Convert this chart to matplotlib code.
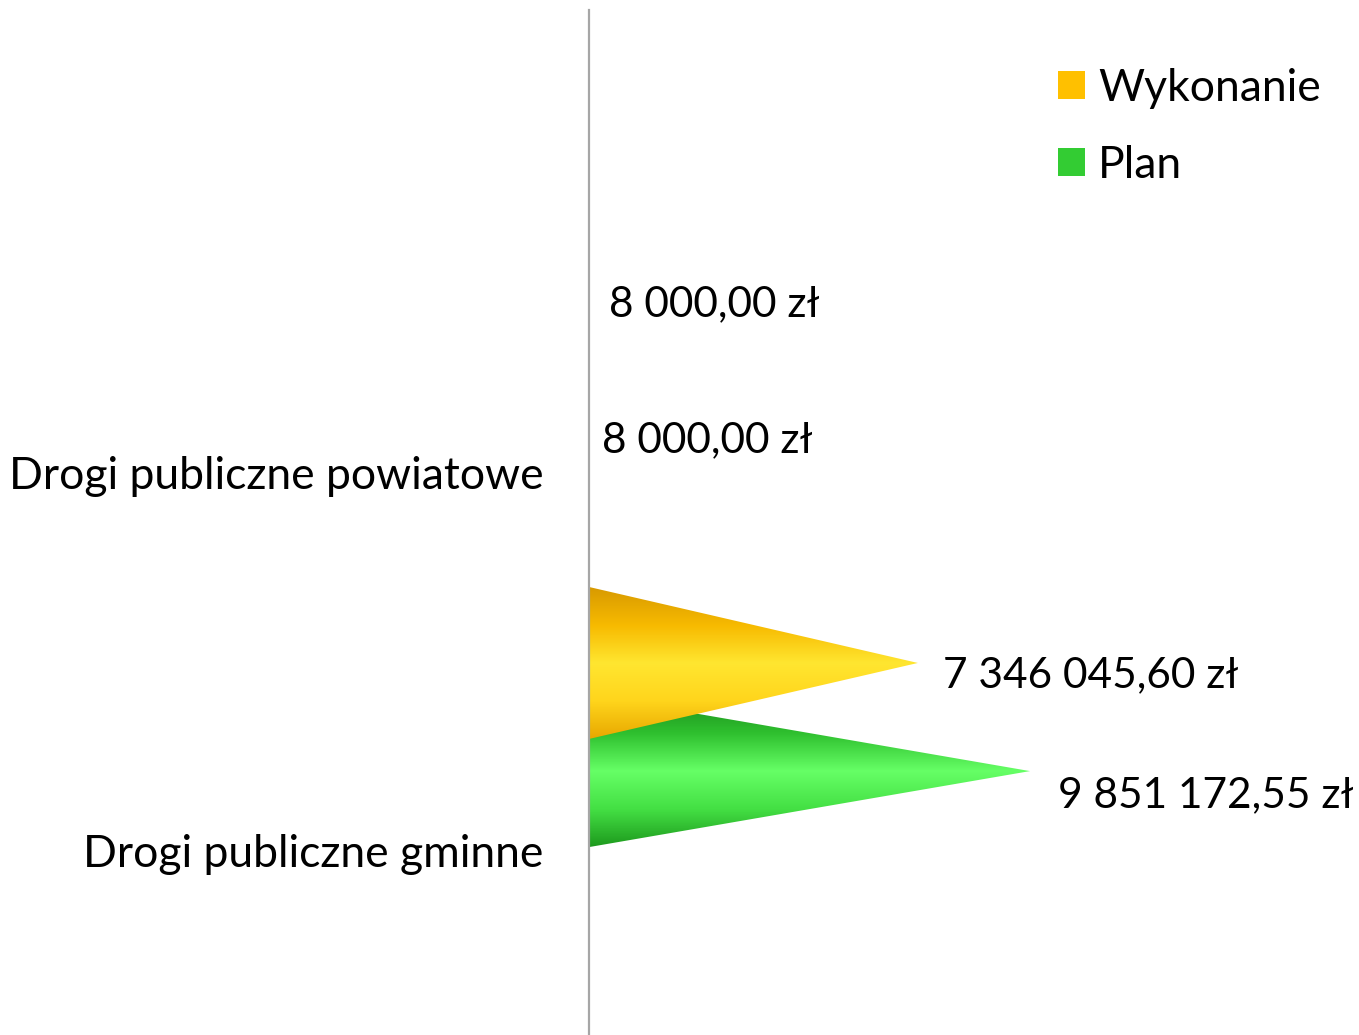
import matplotlib.pyplot as plt
import numpy as np
from matplotlib.patches import Polygon, Patch
from matplotlib.colors import LinearSegmentedColormap

plt.rcParams['font.family'] = ['Lato', 'DejaVu Sans']

# dane
categories = ['Drogi publiczne powiatowe', 'Drogi publiczne gminne']
series = ['Wykonanie', 'Plan']
wykonanie = [8000.00, 7346045.60]
plan = [8000.00, 9851172.55]

colors = {'Wykonanie': '#FFC000', 'Plan': '#33CC33'}
# gradient: krawedz gorna -> srodek -> krawedz dolna
shades = {
    'Wykonanie': ['#D89A00', '#F7BA00', '#FFE630', '#FFD51C', '#E8A800'],
    'Plan': ['#1B8A1B', '#2FC02F', '#66FF66', '#44E044', '#1E9A1E'],
}
# przesuniecia etykiet (punkty)
label_offsets = {
    ('Wykonanie', 0): (14, -14), ('Plan', 0): (9, -34),
    ('Wykonanie', 1): (18, -9), ('Plan', 1): (20, -17),
}

fig = plt.figure(figsize=(13.59, 10.35), dpi=100)
ax = fig.add_axes([589 / 1359, 0, 1 - 589 / 1359, 1025 / 1035])

xmax = 770 / 441 * plan[1]
ax.set_xlim(0, xmax)
ax.set_ylim(1.841, -0.870)

offset = 0.143
half = 0.201
y = np.arange(len(categories))


def fmt(v):
    return f"{v:,.2f}".replace(",", " ").replace(".", ",") + " zł"


def cone(yc, v, name):
    cmap = LinearSegmentedColormap.from_list(name, shades[name])
    grad = np.linspace(0, 1, 200).reshape(-1, 1)
    im = ax.imshow(grad, cmap=cmap, aspect='auto', origin='upper',
                   extent=(0, max(v, 1), yc + half, yc - half), zorder=2)
    poly = Polygon([(0, yc - half), (v, yc), (0, yc + half)], closed=True,
                   facecolor='none', edgecolor='none')
    ax.add_patch(poly)
    im.set_clip_path(poly)


for i in range(len(categories)):
    # Plan najpierw, Wykonanie na wierzchu
    for name, vals, sgn in [('Plan', plan, 1), ('Wykonanie', wykonanie, -1)]:
        yc = y[i] + sgn * offset
        cone(yc, vals[i], name)
        ax.annotate(fmt(vals[i]), (vals[i], yc), xytext=label_offsets[(name, i)],
                    textcoords='offset points', fontsize=30.5, va='center', ha='left',
                    annotation_clip=False)

ax.set_yticks(y + 0.354)
ax.set_yticklabels(categories, fontsize=32)
ax.tick_params(axis='y', length=0, pad=33)
ax.set_xticks([])
for s in ['top', 'right', 'bottom']:
    ax.spines[s].set_visible(False)
ax.spines['left'].set_color('#A6A6A6')
ax.spines['left'].set_linewidth(1.6)
ax.patch.set_alpha(0)

handles = [Patch(facecolor=colors[s], edgecolor='none') for s in series]
fig.legend(handles, series, loc='upper left', bbox_to_anchor=(1058 / 1359, 1 - 68 / 1035),
           frameon=False, fontsize=32, handlelength=0.6, handleheight=0.6,
           handletextpad=0.3, labelspacing=0.8, borderpad=0, borderaxespad=0)

fig.savefig('out.png', dpi=100)
